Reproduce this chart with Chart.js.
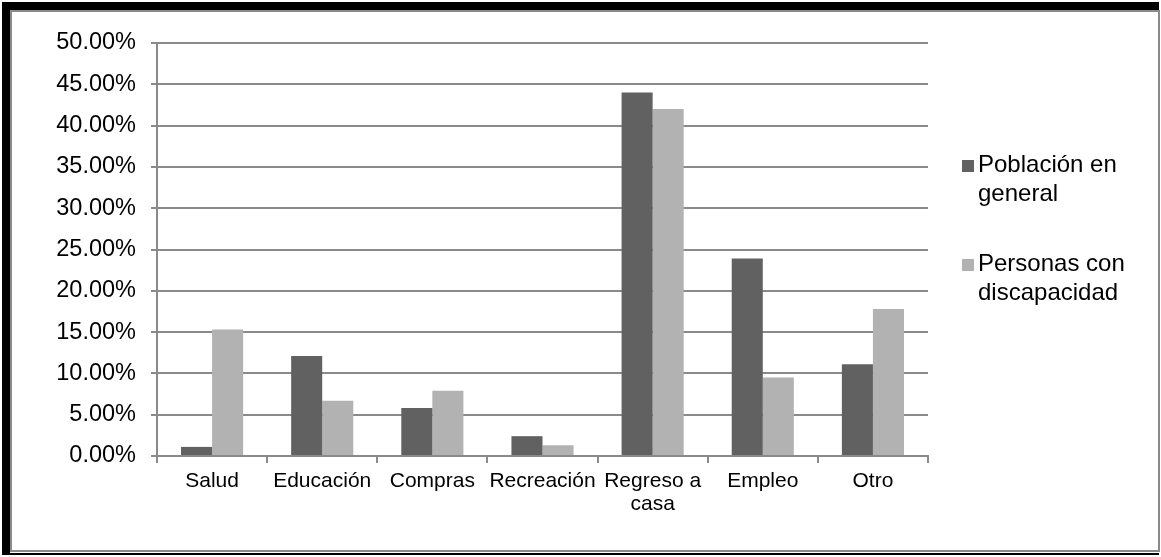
<!DOCTYPE html>
<html>
<head>
<meta charset="utf-8">
<script src="https://cdn.jsdelivr.net/npm/chart.js@4/dist/chart.umd.min.js"></script>
<style>
  html, body { margin: 0; padding: 0; background: #ffffff; }
  #wrap { position: relative; width: 1161px; height: 557px; }
  canvas { position: absolute; left: 0; top: 0; }
  /* document-style frame around the chart */
  #frameOuter {
    position: absolute; left: 2px; top: 2px; width: 1157px; height: 553px;
    box-sizing: border-box;
    border-left: 8px solid #000; border-top: 8px solid #000;
    border-bottom: 2px solid #000; border-right: 0;
    pointer-events: none;
  }
  #frameInner {
    position: absolute; left: 10px; top: 10px; width: 1150px; height: 542px;
    box-sizing: border-box; border: 2px solid #8a8a8a;
    pointer-events: none;
  }
</style>
</head>
<body>
<div id="wrap">
  <canvas id="c" width="1161" height="557"></canvas>
  <div id="frameOuter"></div>
  <div id="frameInner"></div>
</div>
<script>
// Trip purpose shares (%)
const categories = ['Salud', 'Educación', 'Compras', 'Recreación', ['Regreso a', 'casa'], 'Empleo', 'Otro'];
const seriesNames = ['Población en general', 'Personas con discapacidad'];
const legendLines = [['Población en', 'general'], ['Personas con', 'discapacidad']];
const poblacionGeneral = [1.1, 12.1, 5.8, 2.4, 44.0, 23.9, 11.1];
const personasDiscapacidad = [15.3, 6.7, 7.9, 1.3, 42.0, 9.5, 17.8];
const yTicks = [0, 5, 10, 15, 20, 25, 30, 35, 40, 45, 50];

const FONT = '"Liberation Sans", Arial, sans-serif';
const GRID = '#8a8a8a';

// Legend drawn to the right of the plot, with wrapped labels
const sideLegend = {
  id: 'sideLegend',
  afterDraw(chart) {
    const ctx = chart.ctx;
    const x0 = 962, textX = 978;
    const baselines = [172, 271];
    ctx.save();
    ctx.font = '24px ' + FONT;
    ctx.textBaseline = 'alphabetic';
    ctx.textAlign = 'left';
    chart.data.datasets.forEach((ds, i) => {
      const b = baselines[i];
      ctx.fillStyle = ds.backgroundColor;
      ctx.fillRect(x0, b - 12, 12, 12);
      ctx.fillStyle = '#000';
      legendLines[i].forEach((line, j) => ctx.fillText(line, textX, b + j * 29));
    });
    ctx.restore();
  }
};

new Chart(document.getElementById('c'), {
  type: 'bar',
  data: {
    labels: categories,
    datasets: [
      { label: seriesNames[0], data: poblacionGeneral, backgroundColor: '#616161' },
      { label: seriesNames[1], data: personasDiscapacidad, backgroundColor: '#b2b2b2' }
    ]
  },
  options: {
    responsive: false,
    animation: false,
    devicePixelRatio: 1,
    layout: { padding: { left: 0, right: 233, top: 43, bottom: 0 } },
    datasets: { bar: { categoryPercentage: 0.564, barPercentage: 1.0 } },
    plugins: { legend: { display: false }, tooltip: { enabled: false } },
    scales: {
      x: {
        grid: { display: true, drawOnChartArea: false, drawTicks: true, tickLength: 7, color: GRID, lineWidth: 2, offset: true },
        border: { color: GRID, width: 2 },
        ticks: { color: '#000', font: { family: FONT, size: 21, lineHeight: 1.1 }, padding: 7, maxRotation: 0, autoSkip: false },
        afterFit(scale) { scale.height = 101; }
      },
      y: {
        min: 0, max: 50,
        afterBuildTicks(scale) { scale.ticks = yTicks.map(v => ({ value: v })); },
        grid: { color: GRID, lineWidth: 2, tickLength: 6 },
        border: { color: GRID, width: 2 },
        ticks: {
          color: '#000', font: { family: FONT, size: 23.5 }, padding: 15,
          callback: v => Number(v).toFixed(2) + '%'
        },
        afterFit(scale) { scale.width = 157; }
      }
    }
  },
  plugins: [sideLegend]
});
</script>
</body>
</html>
